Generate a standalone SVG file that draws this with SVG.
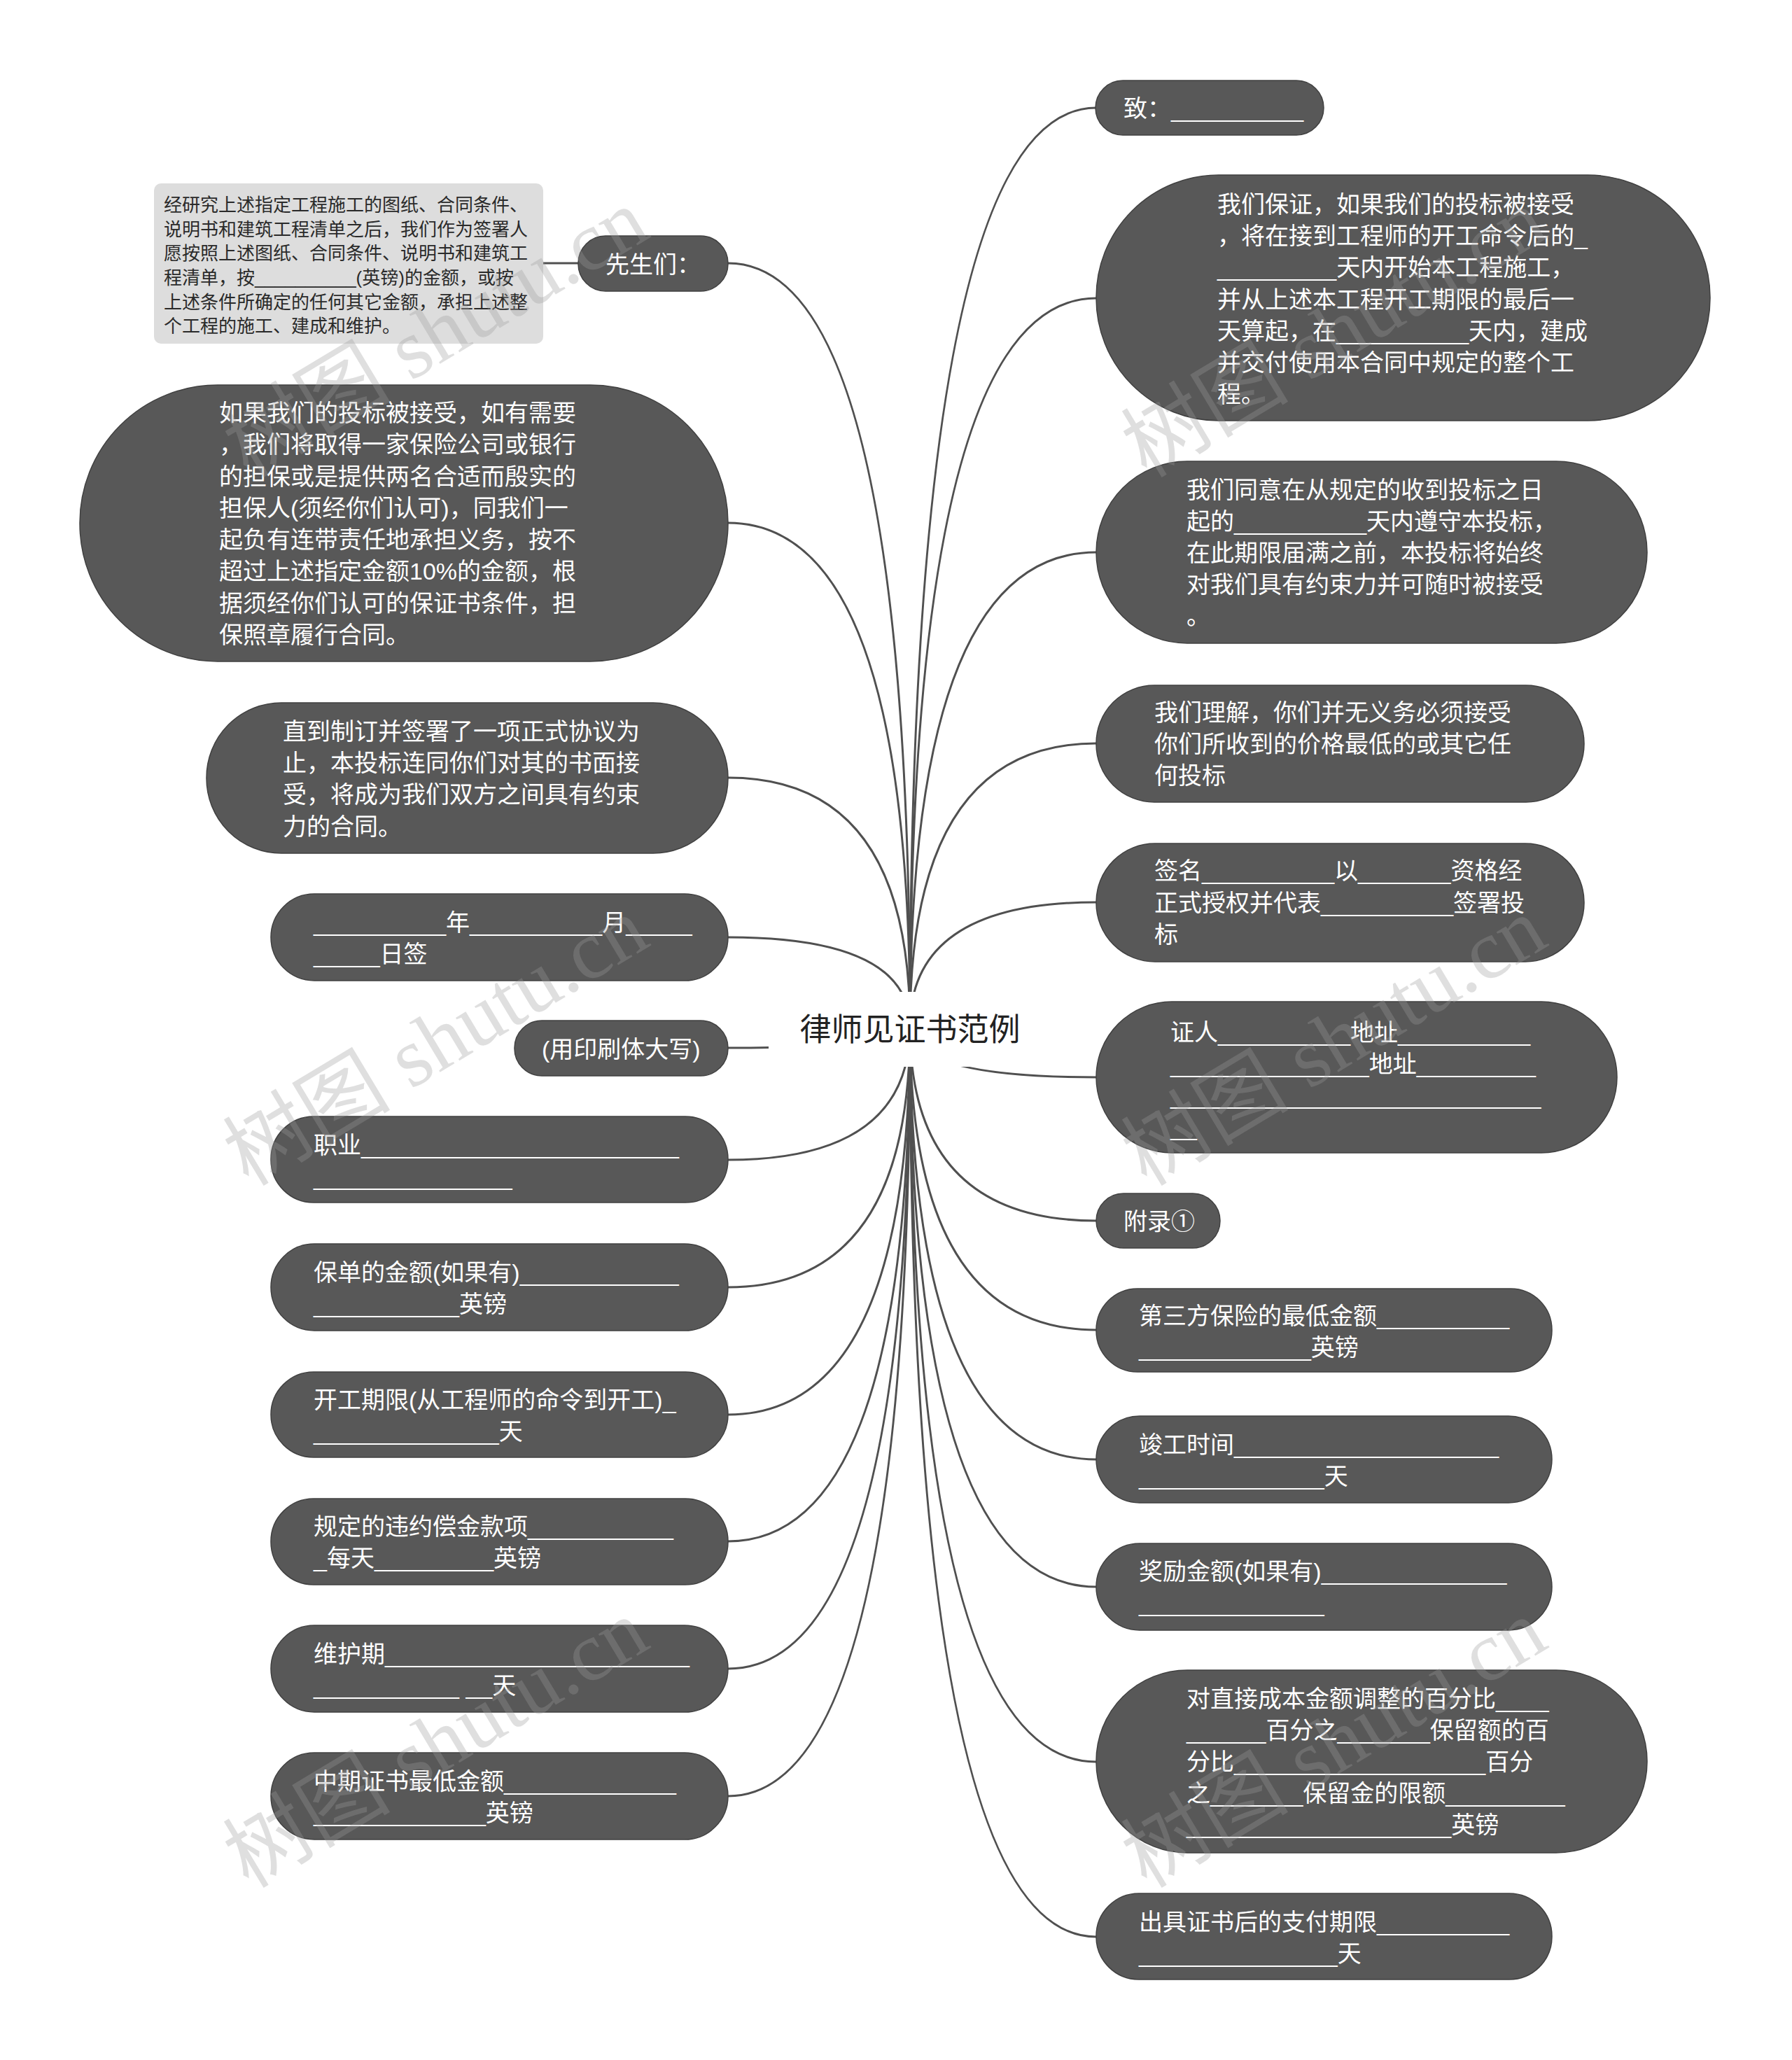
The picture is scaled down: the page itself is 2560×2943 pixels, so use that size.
<svg xmlns="http://www.w3.org/2000/svg" width="2560" height="2943" viewBox="0 0 2560 2943">
<style>
.bg{fill:#ffffff}
.n{fill:#585858;stroke:#404040;stroke-width:1.5}
.t{font-family:"Liberation Sans","Noto Sans CJK SC",sans-serif;font-size:34px;fill:#ffffff}
.s{font-family:"Liberation Sans","Noto Sans CJK SC",sans-serif;font-size:26px;fill:#2a2a2a}
.c{font-family:"Liberation Sans","Noto Sans CJK SC",sans-serif;font-size:45px;fill:#222222}
.e{fill:none;stroke:#505050;stroke-width:3}
.w{font-family:"Liberation Serif","Noto Sans CJK SC",serif;font-size:120px;fill:#9a9a9a;fill-opacity:0.32}
</style>
<rect class="bg" x="0" y="0" width="2560" height="2943"/>
<g id="connectors">
<path class="e" d="M1300 1467 Q1300 154 1566 154"/>
<path class="e" d="M1300 1467 Q1300 426 1566 426"/>
<path class="e" d="M1300 1467 Q1300 789 1566 789"/>
<path class="e" d="M1300 1467 Q1300 1062 1566 1062"/>
<path class="e" d="M1300 1467 Q1300 1289 1566 1289"/>
<path class="e" d="M1300 1467 Q1300 1539 1566 1539"/>
<path class="e" d="M1300 1467 Q1300 1744 1566 1744"/>
<path class="e" d="M1300 1467 Q1300 1900 1566 1900"/>
<path class="e" d="M1300 1467 Q1300 2085 1566 2085"/>
<path class="e" d="M1300 1467 Q1300 2267 1566 2267"/>
<path class="e" d="M1300 1467 Q1300 2517 1566 2517"/>
<path class="e" d="M1300 1467 Q1300 2767 1566 2767"/>
<path class="e" d="M1300 1467 Q1300 376 1040 376"/>
<path class="e" d="M1300 1467 Q1300 747 1040 747"/>
<path class="e" d="M1300 1467 Q1300 1111 1040 1111"/>
<path class="e" d="M1300 1467 Q1300 1339 1040 1339"/>
<path class="e" d="M1300 1467 Q1300 1497 1040 1497"/>
<path class="e" d="M1300 1467 Q1300 1657 1040 1657"/>
<path class="e" d="M1300 1467 Q1300 1839 1040 1839"/>
<path class="e" d="M1300 1467 Q1300 2021 1040 2021"/>
<path class="e" d="M1300 1467 Q1300 2202 1040 2202"/>
<path class="e" d="M1300 1467 Q1300 2384 1040 2384"/>
<path class="e" d="M1300 1467 Q1300 2566 1040 2566"/>
<path class="e" d="M776 376 L826 376"/>
</g>
<g id="center">
<rect x="1098" y="1417" width="404" height="107" rx="20" fill="#ffffff"/>
<text class="c" x="1300" y="1487" text-anchor="middle">律师见证书范例</text>
</g>
<g id="r1"><rect class="n" x="1565" y="115" width="326" height="78" rx="39"/>
<text class="t" x="1605" y="167">致：__________</text></g>
<g id="r2"><rect class="n" x="1566" y="250" width="877" height="351" rx="175"/>
<text class="t" x="1739" y="304">我们保证，如果我们的投标被接受</text>
<text class="t" x="1739" y="349">，将在接到工程师的开工命令后的_</text>
<text class="t" x="1739" y="394">_________天内开始本工程施工，</text>
<text class="t" x="1739" y="440">并从上述本工程开工期限的最后一</text>
<text class="t" x="1739" y="485">天算起，在__________天内，建成</text>
<text class="t" x="1739" y="530">并交付使用本合同中规定的整个工</text>
<text class="t" x="1739" y="575">程。</text></g>
<g id="r3"><rect class="n" x="1566" y="659" width="787" height="260" rx="130"/>
<text class="t" x="1695" y="712">我们同意在从规定的收到投标之日</text>
<text class="t" x="1695" y="757">起的__________天内遵守本投标，</text>
<text class="t" x="1695" y="802">在此期限届满之前，本投标将始终</text>
<text class="t" x="1695" y="847">对我们具有约束力并可随时被接受</text>
<text class="t" x="1695" y="892">。</text></g>
<g id="r4"><rect class="n" x="1566" y="979" width="697" height="167" rx="83"/>
<text class="t" x="1649" y="1030">我们理解，你们并无义务必须接受</text>
<text class="t" x="1649" y="1075">你们所收到的价格最低的或其它任</text>
<text class="t" x="1649" y="1120">何投标</text></g>
<g id="r5"><rect class="n" x="1566" y="1205" width="697" height="169" rx="84"/>
<text class="t" x="1649" y="1256">签名__________以_______资格经</text>
<text class="t" x="1649" y="1302">正式授权并代表__________签署投</text>
<text class="t" x="1649" y="1347">标</text></g>
<g id="r6"><rect class="n" x="1566" y="1431" width="744" height="216" rx="108"/>
<text class="t" x="1672" y="1487">证人__________地址__________</text>
<text class="t" x="1672" y="1532">_______________地址_________</text>
<text class="t" x="1672" y="1577">____________________________</text>
<text class="t" x="1672" y="1622">__</text></g>
<g id="r7"><rect class="n" x="1566" y="1705" width="177" height="78" rx="39"/>
<text class="t" x="1605" y="1757">附录①</text></g>
<g id="r8"><rect class="n" x="1566" y="1841" width="651" height="119" rx="59"/>
<text class="t" x="1627" y="1892">第三方保险的最低金额__________</text>
<text class="t" x="1627" y="1937">_____________英镑</text></g>
<g id="r9"><rect class="n" x="1566" y="2023" width="651" height="124" rx="62"/>
<text class="t" x="1627" y="2076">竣工时间____________________</text>
<text class="t" x="1627" y="2121">______________天</text></g>
<g id="r10"><rect class="n" x="1566" y="2205" width="651" height="124" rx="62"/>
<text class="t" x="1627" y="2257">奖励金额(如果有)______________</text>
<text class="t" x="1627" y="2302">______________</text></g>
<g id="r11"><rect class="n" x="1566" y="2386" width="787" height="261" rx="130"/>
<text class="t" x="1695" y="2439">对直接成本金额调整的百分比____</text>
<text class="t" x="1695" y="2484">______百分之_______保留额的百</text>
<text class="t" x="1695" y="2529">分比___________________百分</text>
<text class="t" x="1695" y="2574">之_______保留金的限额_________</text>
<text class="t" x="1695" y="2619">____________________英镑</text></g>
<g id="r12"><rect class="n" x="1566" y="2705" width="651" height="123" rx="61"/>
<text class="t" x="1627" y="2758">出具证书后的支付期限__________</text>
<text class="t" x="1627" y="2803">_______________天</text></g>
<g id="l0"><rect x="220" y="262" width="556" height="229" rx="10" fill="#dddddd"/>
<text class="s" x="234" y="302">经研究上述指定工程施工的图纸、合同条件、</text>
<text class="s" x="234" y="337">说明书和建筑工程清单之后，我们作为签署人</text>
<text class="s" x="234" y="371">愿按照上述图纸、合同条件、说明书和建筑工</text>
<text class="s" x="234" y="406">程清单，按__________(英镑)的金额，或按</text>
<text class="s" x="234" y="441">上述条件所确定的任何其它金额，承担上述整</text>
<text class="s" x="234" y="475">个工程的施工、建成和维护。</text></g>
<g id="l1"><rect class="n" x="826" y="337" width="214" height="79" rx="39"/>
<text class="t" x="865" y="390">先生们：</text></g>
<g id="l2"><rect class="n" x="114" y="550" width="926" height="395" rx="197"/>
<text class="t" x="313" y="602">如果我们的投标被接受，如有需要</text>
<text class="t" x="313" y="647">，我们将取得一家保险公司或银行</text>
<text class="t" x="313" y="693">的担保或是提供两名合适而殷实的</text>
<text class="t" x="313" y="738">担保人(须经你们认可)，同我们一</text>
<text class="t" x="313" y="783">起负有连带责任地承担义务，按不</text>
<text class="t" x="313" y="828">超过上述指定金额10%的金额，根</text>
<text class="t" x="313" y="874">据须经你们认可的保证书条件，担</text>
<text class="t" x="313" y="919">保照章履行合同。</text></g>
<g id="l3"><rect class="n" x="295" y="1004" width="745" height="215" rx="107"/>
<text class="t" x="404" y="1057">直到制订并签署了一项正式协议为</text>
<text class="t" x="404" y="1102">止，本投标连同你们对其的书面接</text>
<text class="t" x="404" y="1147">受，将成为我们双方之间具有约束</text>
<text class="t" x="404" y="1193">力的合同。</text></g>
<g id="l4"><rect class="n" x="387" y="1277" width="653" height="124" rx="62"/>
<text class="t" x="448" y="1330">__________年__________月_____</text>
<text class="t" x="448" y="1375">_____日签</text></g>
<g id="l5"><rect class="n" x="735" y="1458" width="305" height="79" rx="39"/>
<text class="t" x="774" y="1511">(用印刷体大写)</text></g>
<g id="l6"><rect class="n" x="387" y="1595" width="653" height="123" rx="61"/>
<text class="t" x="448" y="1648">职业________________________</text>
<text class="t" x="448" y="1693">_______________</text></g>
<g id="l7"><rect class="n" x="387" y="1777" width="653" height="124" rx="62"/>
<text class="t" x="448" y="1830">保单的金额(如果有)____________</text>
<text class="t" x="448" y="1875">___________英镑</text></g>
<g id="l8"><rect class="n" x="387" y="1960" width="653" height="122" rx="61"/>
<text class="t" x="448" y="2012">开工期限(从工程师的命令到开工)_</text>
<text class="t" x="448" y="2057">______________天</text></g>
<g id="l9"><rect class="n" x="387" y="2141" width="653" height="123" rx="61"/>
<text class="t" x="448" y="2193">规定的违约偿金款项___________</text>
<text class="t" x="448" y="2238">_每天_________英镑</text></g>
<g id="l10"><rect class="n" x="387" y="2322" width="653" height="124" rx="62"/>
<text class="t" x="448" y="2375">维护期_______________________</text>
<text class="t" x="448" y="2420">___________ __天</text></g>
<g id="l11"><rect class="n" x="387" y="2504" width="653" height="124" rx="62"/>
<text class="t" x="448" y="2557">中期证书最低金额_____________</text>
<text class="t" x="448" y="2602">_____________英镑</text></g>
<g id="watermarks">
<text class="w" transform="translate(355 684) rotate(-31)">树图 shutu.cn</text>
<text class="w" transform="translate(355 1696) rotate(-31)">树图 shutu.cn</text>
<text class="w" transform="translate(355 2699) rotate(-31)">树图 shutu.cn</text>
<text class="w" transform="translate(1638 684) rotate(-31)">树图 shutu.cn</text>
<text class="w" transform="translate(1638 1696) rotate(-31)">树图 shutu.cn</text>
<text class="w" transform="translate(1638 2699) rotate(-31)">树图 shutu.cn</text>
</g>
</svg>
